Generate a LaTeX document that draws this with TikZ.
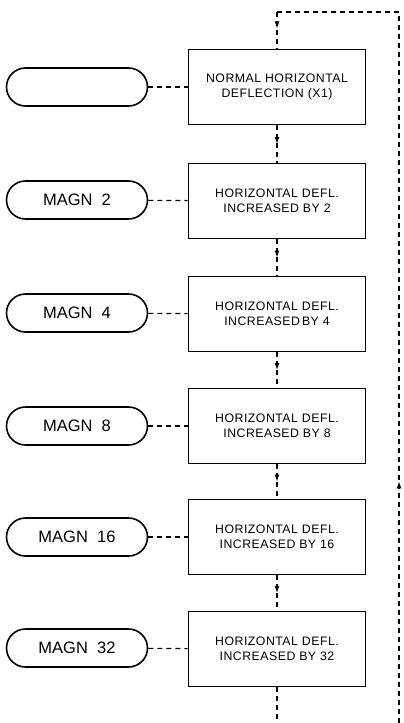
\documentclass[tikz,border=0pt]{standalone}
\usepackage{fontspec}
\setmainfont{Liberation Sans}
\newfontfamily\spacedfont[LetterSpace=4]{Liberation Sans}
\usetikzlibrary{arrows.meta,decorations.markings}
\begin{document}
\begin{tikzpicture}[x=1pt,y=-1pt,
  boxst/.style={draw,line width=1.7pt,minimum width=177pt,minimum height=75pt,align=center,inner sep=0pt,
    font=\spacedfont\fontsize{12.3}{14.5}\selectfont},
  pill/.style={draw,line width=1.6pt,rounded corners=19pt,minimum width=141pt,minimum height=38pt,inner sep=0pt,
    font=\fontsize{16.5}{18}\selectfont},
  dl/.style={line width=1.1pt,dash pattern=on 5pt off 4pt},
  arr/.style={dl,postaction={decorate},decoration={markings,
    mark=at position #1 with {\arrow[solid]{Latex[length=7pt,width=5pt]}}}}
]
\useasboundingbox (0,0) rectangle (404,723);
\node[pill] (p0) at (77,87) {};
\node[pill] (p1) at (77,200) {MAGN\ \ 2};
\node[pill] (p2) at (77,313) {MAGN\ \ 4};
\node[pill] (p3) at (77,426) {MAGN\ \ 8};
\node[pill] (p4) at (77,537) {MAGN\ \ 16};
\node[pill] (p5) at (77,648) {MAGN\ \ 32};
\node[boxst] (b0) at (277,87) {NORMAL HORIZONTAL\\DEFLECTION (X1)};
\node[boxst] (b1) at (277,201) {HORIZONTAL DEFL.\\INCREASED BY 2};
\node[boxst] (b2) at (277,314) {HORIZONTAL DEFL.\\INCREASED\,BY 4};
\node[boxst] (b3) at (277,426) {HORIZONTAL DEFL.\\INCREASED BY 8};
\node[boxst] (b4) at (277,537) {HORIZONTAL DEFL.\\INCREASED BY 16};
\node[boxst] (b5) at (277,649) {HORIZONTAL DEFL.\\INCREASED BY 32};
\foreach \i in {0,...,5} \draw[dl] (p\i) -- (b\i);
\draw[arr=0.5] (b0) -- (b1);
\draw[arr=0.5] (b1) -- (b2);
\draw[arr=0.5] (b2) -- (b3);
\draw[arr=0.5] (b3) -- (b4);
\draw[arr=0.5] (b4) -- (b5);
\coordinate (c1) at (277,12);
\coordinate (c2) at (399,12);
\coordinate (c3) at (399,723);
\coordinate (c4) at (277,723);
\draw[dl] (c2) -- (c1);
\draw[arr=0.45] (c1) -- (b0.north);
\draw[arr=0.34] (c3) -- (c2);
\draw[dl] (b5.south) -- (c4);
\end{tikzpicture}
\end{document}
